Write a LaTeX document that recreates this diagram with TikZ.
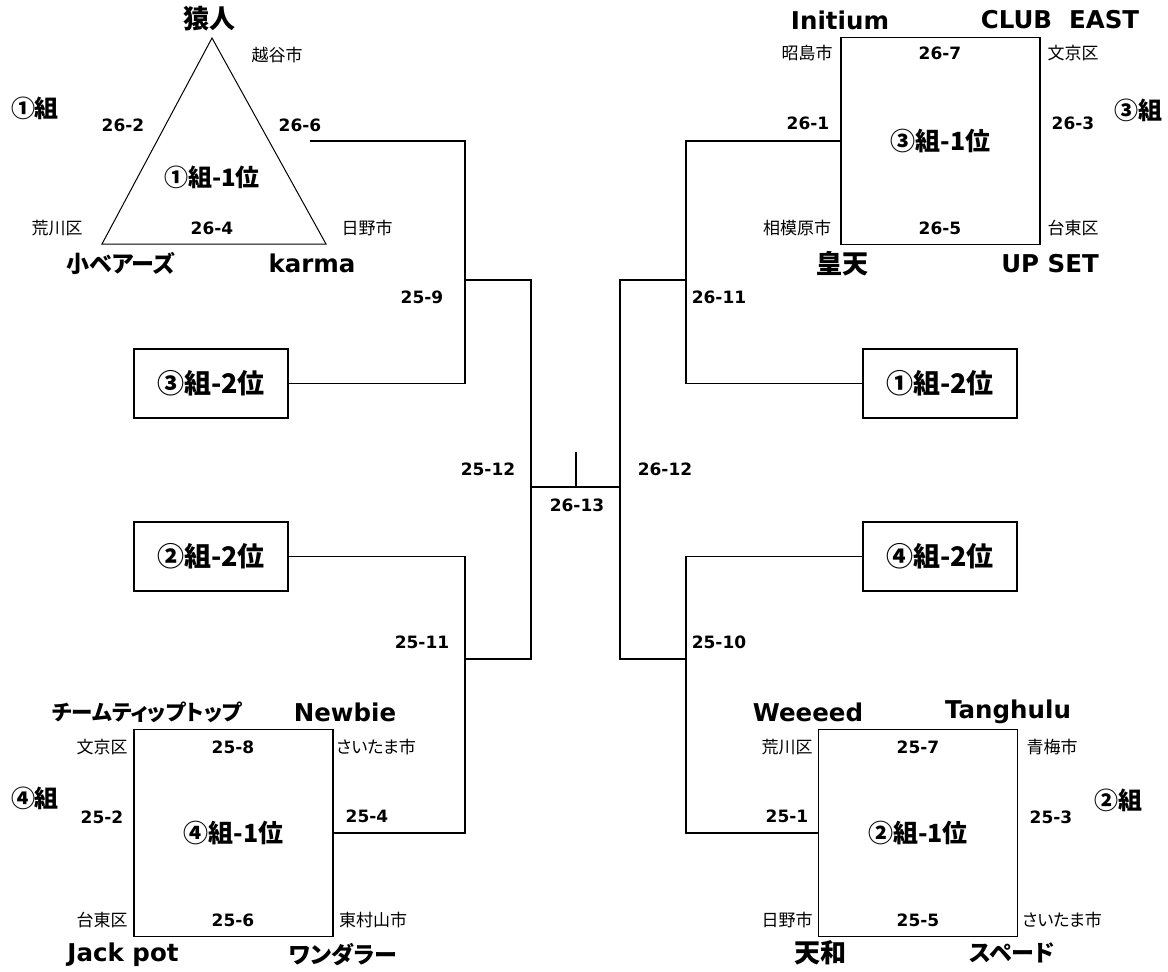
\documentclass[tikz,border=0pt]{standalone}
\usepackage{fontspec}
\newfontfamily\jp{Noto Sans CJK JP}[RawFeature=+palt]
\newfontfamily\lat{DejaVu Sans}
\usetikzlibrary{positioning}

\begin{document}
\begin{tikzpicture}[x=1pt, y=-1pt,
  score/.style={font=\lat\bfseries\fontsize{17}{19}\selectfont},
  city/.style={font=\jp\fontsize{17}{19}\selectfont},
  team/.style={font=\lat\bfseries\fontsize{24.5}{28}\selectfont},
  jteam/.style={font=\jp\bfseries\fontsize{26}{29}\selectfont},
  kteam/.style={font=\jp\bfseries\fontsize{23}{26}\selectfont},
  grp/.style={font=\jp\bfseries\fontsize{24}{27}\selectfont},
  pool/.style={draw, line width=1.8pt, minimum width=199pt, minimum height=207pt, inner sep=0pt, font=\jp\bfseries\fontsize{25}{28}\selectfont},
  seed/.style={draw, line width=1.8pt, minimum width=154pt, minimum height=69pt, inner sep=0pt, font=\jp\bfseries\fontsize{27}{30}\selectfont},
  wire/.style={line width=1.6pt}]

\useasboundingbox (0,0) rectangle (1168,972);

% pool 1 (triangle)
\coordinate (t1top) at (212,38);
\coordinate (t1left) at (102,244);
\coordinate (t1right) at (326,244);
\draw[line width=1pt] (t1top) -- (t1left) -- (t1right) -- cycle;
\node[font=\jp\bfseries\fontsize{24}{27}\selectfont] (win1) at (212,177) {①組-1位};
\node[jteam] (saru) at (209,19) {猿人};
\node[city] (koshi) at (277,55) {越谷市};
\node[grp] (grp1) at (35,108) {①組};
\node[score] (s262) at (123,125) {26-2};
\node[score] (s266) at (300,125) {26-6};
\node[city] (ara1) at (57,228) {荒川区};
\node[score] (s264) at (212,228) {26-4};
\node[city] (hino1) at (367,228) {日野市};
\node[kteam] (kobe) at (121,263) {小ベアーズ};
\node[team] (karma) at (312,263) {karma};
\coordinate (tri out) at (310,141);

% pool 3
\node[pool] (pool3) at (940.5,141) {③組-1位};
\node[team] (initium) at (840,20) {Initium};
\node[team] (club) at (1060,20) {CLUB\ \ EAST};
\node[city] (akishima) at (807,53) {昭島市};
\node[score] (s267) at (940,53) {26-7};
\node[city] (bunkyo3) at (1073,53) {文京区};
\node[score] (s261) at (808,123) {26-1};
\node[score] (s263) at (1073,123) {26-3};
\node[grp] (grp3) at (1138,110) {③組};
\node[city] (sagami) at (797,228) {相模原市};
\node[score] (s265) at (940,228) {26-5};
\node[city] (taito3) at (1073,228) {台東区};
\node[jteam] (koten) at (842,264) {皇天};
\node[team] (upset) at (1050,264) {UP SET};

% pool 4
\node[pool] (pool4) at (233.5,833) {④組-1位};
\node[kteam, font=\jp\bfseries\fontsize{21.5}{24}\selectfont] (tiptop) at (147,712) {チームティップトップ};
\node[team] (newbie) at (345,712) {Newbie};
\node[city] (bunkyo4) at (102,747) {文京区};
\node[score] (s258) at (233,747) {25-8};
\node[city] (saitama4) at (376,747) {さいたま市};
\node[grp] (grp4) at (35,798) {④組};
\node[score] (s252) at (102,817) {25-2};
\node[score] (s254) at (367,816) {25-4};
\node[city] (taito4) at (102,920) {台東区};
\node[score] (s256) at (233,920) {25-6};
\node[city] (higashi) at (373,920) {東村山市};
\node[team] (jack) at (123,955) {Jack pot};
\node[kteam] (wander) at (343,955) {ワンダラー};

% pool 2
\node[pool] (pool2) at (918,833) {②組-1位};
\node[team] (weeeed) at (808,712) {Weeeed};
\node[team] (tang) at (1008,712) {Tanghulu};
\node[city] (ara2) at (787,747) {荒川区};
\node[score] (s257) at (918,747) {25-7};
\node[city] (ome) at (1052,747) {青梅市};
\node[grp] (grp2) at (1118,800) {②組};
\node[score] (s251) at (787,816) {25-1};
\node[score] (s253) at (1051,817) {25-3};
\node[city] (hino2) at (787,920) {日野市};
\node[score] (s255) at (918,920) {25-5};
\node[city] (saitama2) at (1062,920) {さいたま市};
\node[jteam] (tenwa) at (820,953) {天和};
\node[kteam] (spade) at (1012,953) {スペード};

% runners-up
\node[seed] (sec3) at (211,383.5) {③組-2位};
\node[seed] (sec2) at (211,556.5) {②組-2位};
\node[seed] (sec1) at (940,383.5) {①組-2位};
\node[seed] (sec4) at (940,556.5) {④組-2位};

% bracket
\coordinate (m259) at (465,280);
\coordinate (m2511) at (465,659);
\coordinate (m2611) at (686,280);
\coordinate (m2510) at (686,659);
\coordinate (semiL) at (531,487);
\coordinate (semiR) at (620,487);
\coordinate (final) at (576,487);
\coordinate (champ) at (576,452);

\draw[wire] (tri out) -| (m259) |- (sec3.east);
\draw[wire] (sec2.east) -| (m2511) |- (pool4.east);
\draw[wire] (pool3.west) -| (m2611) |- (sec1.west);
\draw[wire] (sec4.west) -| (m2510) |- (pool2.west);
\draw[wire] (m259) -| (semiL) |- (m2511);
\draw[wire] (m2611) -| (semiR) |- (m2510);
\draw[wire] (semiL) -- (semiR);
\draw[wire] (final) -- (champ);

\node[score] (s259) at (422,297) {25-9};
\node[score] (s2511) at (422,642) {25-11};
\node[score] (s2611) at (719,297) {26-11};
\node[score] (s2510) at (719,642) {25-10};
\node[score] (s2512) at (488,469) {25-12};
\node[score] (s2612) at (665,469) {26-12};
\node[score] (s2613) at (577,505) {26-13};

\end{tikzpicture}
\end{document}
